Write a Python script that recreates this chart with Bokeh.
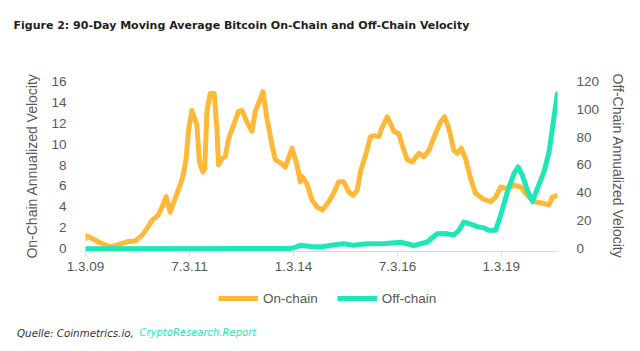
from bokeh.plotting import figure
from bokeh.layouts import column, row
from bokeh.models import Range1d, LinearAxis, FixedTicker, Legend, LegendItem, Label
from bokeh.embed import file_html
from bokeh.resources import INLINE

title_text = "Figure 2: 90-Day Moving Average Bitcoin On-Chain and Off-Chain Velocity"
source_text = "Quelle: Coinmetrics.io, "
source_link = "CryptoResearch.Report"
left_label = "On-Chain Annualized Velocity"
right_label = "Off-Chain Annualized Velocity"
series_names = ["On-chain", "Off-chain"]

# x positions in units of the labelled tick interval (0 = 1.3.09, 1 = 7.3.11, ...)
tick_positions = [0, 1, 2, 3, 4]
tick_labels = ["1.3.09", "7.3.11", "1.3.14", "7.3.16", "1.3.19"]
left_ticks = [0, 2, 4, 6, 8, 10, 12, 14, 16]
right_ticks = [0, 20, 40, 60, 80, 100, 120]

on_x = [0.000, 0.014, 0.063, 0.140, 0.236, 0.303, 0.400, 0.477, 0.544, 0.592,
        0.641, 0.698, 0.737, 0.776, 0.814, 0.862, 0.910, 0.939, 0.968, 0.990,
        1.023, 1.055, 1.071, 1.096, 1.129, 1.146, 1.168, 1.199, 1.238, 1.264,
        1.279, 1.312, 1.344, 1.376, 1.424, 1.472, 1.505, 1.553, 1.601, 1.633,
        1.681, 1.707, 1.746, 1.794, 1.826, 1.890, 1.922, 1.986, 2.035, 2.066,
        2.083, 2.131, 2.179, 2.227, 2.278, 2.339, 2.387, 2.435, 2.484, 2.532,
        2.574, 2.613, 2.645, 2.693, 2.741, 2.779, 2.821, 2.854, 2.902, 2.933,
        2.965, 3.013, 3.046, 3.094, 3.143, 3.206, 3.254, 3.303, 3.367, 3.415,
        3.454, 3.495, 3.543, 3.576, 3.615, 3.656, 3.704, 3.752, 3.817, 3.897,
        3.945, 3.993, 4.058, 4.121, 4.186, 4.250, 4.314, 4.379, 4.459, 4.491,
        4.540]
on_y = [1.0, 1.25, 1.0, 0.6, 0.2, 0.36, 0.68, 0.75, 1.3, 1.95,
        2.75, 3.2, 4.0, 5.0, 3.5, 4.8, 6.1, 7.0, 8.6, 11.2,
        13.2, 12.3, 11.8, 8.3, 7.35, 7.6, 13.1, 14.8, 14.8, 11.5,
        8.0, 8.6, 8.8, 10.5, 11.8, 13.1, 13.2, 12.1, 11.2, 13.1,
        14.3, 15.0, 12.4, 9.9, 8.5, 8.1, 7.8, 9.6, 8.0, 6.4,
        6.9, 6.2, 4.65, 4.0, 3.7, 4.5, 5.3, 6.4, 6.4, 5.45,
        5.1, 5.6, 7.35, 8.9, 10.7, 10.8, 10.7, 11.6, 12.6, 11.95,
        11.2, 11.0, 9.9, 8.5, 8.3, 9.1, 8.8, 9.4, 11.0, 12.1,
        12.6, 11.5, 9.4, 9.1, 9.6, 8.6, 6.7, 5.3, 4.8, 4.5,
        4.95, 5.9, 5.75, 6.1, 5.9, 5.1, 4.5, 4.4, 4.2, 4.95,
        5.1]

off_x = [0.000, 1.970, 2.028, 2.066, 2.162, 2.259, 2.384, 2.484, 2.580, 2.709,
         2.885, 3.030, 3.158, 3.287, 3.383, 3.463, 3.543, 3.592, 3.640, 3.688,
         3.769, 3.832, 3.880, 3.945, 3.993, 4.058, 4.121, 4.160, 4.202, 4.250,
         4.299, 4.347, 4.410, 4.459, 4.491, 4.539]
off_y = [0.2, 0.3, 1.5, 2.7, 1.8, 1.4, 2.8, 3.8, 2.6, 3.8,
         4.0, 4.8, 2.5, 5.0, 10.9, 11.1, 10.0, 13.4, 19.2, 18.2,
         16.0, 15.1, 13.4, 13.3, 24.0, 40.9, 53.9, 58.6, 52.7, 42.0,
         34.0, 43.2, 55.1, 69.4, 86.1, 111.0]

ORANGE = "#FFB938"
TEAL = "#1DE8B5"
GRAY = "#595959"
FONT = "Liberation Sans"


def blank(height):
    f = figure(width=640, height=height, output_backend="svg", toolbar_location=None,
               x_axis_type=None, y_axis_type=None, x_range=Range1d(0, 1), y_range=Range1d(0, 1),
               min_border=0)
    f.outline_line_color = None
    f.grid.visible = False
    f.background_fill_color = "white"
    f.border_fill_color = "white"
    return f


# ---- title strip ----
top = blank(45)
top.add_layout(Label(x=13, y=20, x_units="screen", y_units="screen", text=title_text,
                     text_font="DejaVu Sans", text_font_style="bold", text_font_size="11px",
                     text_color="#1E1E1E", text_baseline="alphabetic"))

# ---- main chart ----
p = figure(width=640, height=240, output_backend="svg", toolbar_location=None,
           x_range=Range1d(0, 4.54), y_range=Range1d(-0.24, 16.05),
           min_border_left=85, min_border_right=83, min_border_top=35,
           min_border_bottom=34)
p.extra_y_ranges = {"off": Range1d(-1.79, 120.36)}
p.outline_line_color = None
p.grid.visible = False
p.background_fill_color = "white"
p.border_fill_color = "white"

p.line(on_x, on_y, line_width=5, color=ORANGE, line_join="round", line_cap="round")
p.line(off_x, off_y, y_range_name="off", line_width=5, color=TEAL,
       line_join="round", line_cap="round")

xa = p.xaxis[0]
xa.ticker = FixedTicker(ticks=tick_positions)
xa.major_label_overrides = {t: l for t, l in zip(tick_positions, tick_labels)}
xa.axis_line_color = "#D9D9D9"
xa.major_tick_line_color = "#D9D9D9"
xa.major_tick_in = 0
xa.major_tick_out = 5
xa.minor_tick_line_color = None
xa.major_label_standoff = 5
xa.major_label_text_font = FONT
xa.major_label_text_font_size = "13.5px"
xa.major_label_text_color = GRAY

ya = p.yaxis[0]
ya.ticker = FixedTicker(ticks=left_ticks)
ya.axis_line_color = None
ya.major_tick_line_color = None
ya.minor_tick_line_color = None
ya.major_label_standoff = 13
ya.major_label_text_font = FONT
ya.major_label_text_font_size = "13.5px"
ya.major_label_text_color = GRAY
ya.axis_label = left_label
ya.axis_label_text_font = FONT
ya.axis_label_text_font_size = "14px"
ya.axis_label_text_font_style = "normal"
ya.axis_label_text_color = GRAY
ya.axis_label_standoff = 8

ra = LinearAxis(y_range_name="off", ticker=FixedTicker(ticks=right_ticks))
ra.axis_line_color = None
ra.major_tick_line_color = None
ra.minor_tick_line_color = None
ra.major_label_standoff = 13
ra.major_label_text_font = FONT
ra.major_label_text_font_size = "13.5px"
ra.major_label_text_color = GRAY
ra.axis_label = right_label
ra.axis_label_text_font = FONT
ra.axis_label_text_font_size = "14px"
ra.axis_label_text_font_style = "normal"
ra.axis_label_text_color = GRAY
ra.axis_label_standoff = 8
p.add_layout(ra, "right")

# ---- legend and source strip ----
bot = blank(66)
# legend keys only: data lies outside the visible range of this strip
k_on = bot.line([-3, -2], [-3, -3], line_width=5, color=ORANGE)
k_off = bot.line([-3, -2], [-3, -3], line_width=5, color=TEAL)
legend = Legend(items=[LegendItem(label=series_names[0], renderers=[k_on]),
                       LegendItem(label=series_names[1], renderers=[k_off])],
                orientation="horizontal", location=(218, 45))
legend.label_text_font = FONT
legend.label_text_font_size = "13.5px"
legend.label_text_color = GRAY
legend.glyph_width = 40
legend.glyph_height = 16
legend.label_standoff = 5
legend.spacing = 19
legend.padding = 0
legend.margin = 0
legend.border_line_color = None
legend.background_fill_alpha = 0
bot.add_layout(legend)

bot.add_layout(Label(x=16.5, y=19, x_units="screen", y_units="screen", text=source_text,
                     text_font="DejaVu Sans", text_font_style="italic", text_font_size="10.3px",
                     text_color="#333333", text_baseline="alphabetic"))
bot.add_layout(Label(x=139, y=19, x_units="screen", y_units="screen", text=source_link,
                     text_font="DejaVu Sans", text_font_style="italic", text_font_size="10px",
                     text_color=TEAL, text_baseline="alphabetic"))

page = column(row(top), row(p), row(bot), spacing=0)
open("out.html", "w").write(file_html(page, INLINE))
